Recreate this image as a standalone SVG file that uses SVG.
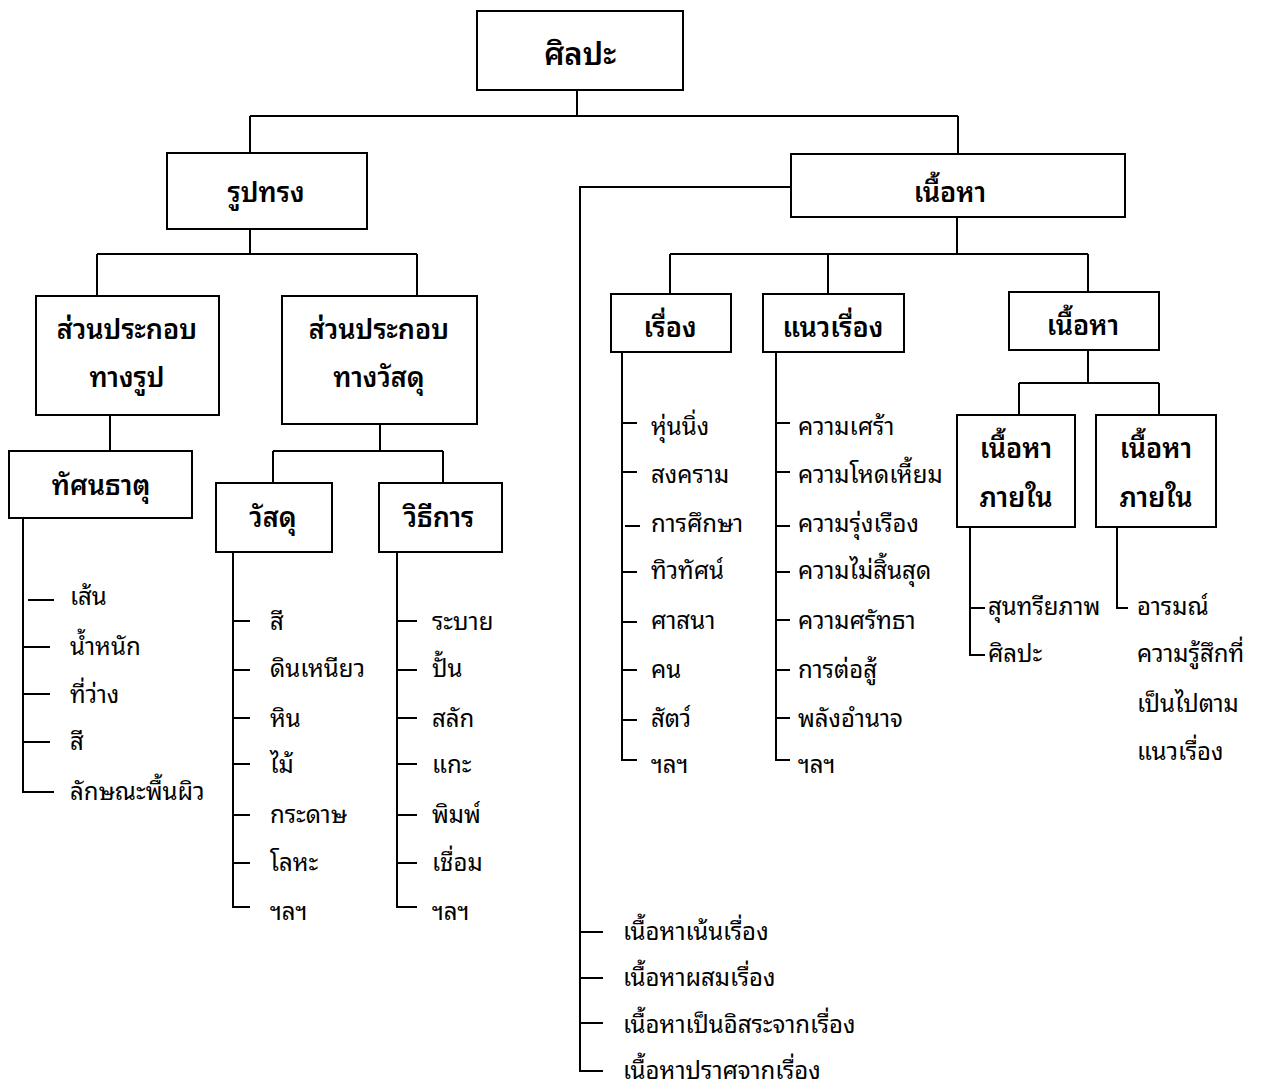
<svg xmlns="http://www.w3.org/2000/svg" width="1264" height="1088" viewBox="0 0 1264 1088">
<style>
.bx{fill:#fff;stroke:#000;stroke-width:2}
.ln{fill:none;stroke:#000;stroke-width:2}
text{font-family:"Noto Sans Thai Looped","Noto Sans Thai","Noto Sans","DejaVu Sans",sans-serif;fill:#000}
.t{font-size:24px}
.b{font-size:27px;font-weight:600;text-anchor:middle}
.h{font-size:31px;font-weight:600;text-anchor:middle}
</style>
<rect width="1264" height="1088" fill="#fff"/>
<g id="connectors" class="ln">
<path d="M577,90V116M250,116H958M250,116V153M958,116V154"/>
<path d="M250,229V254M97,254H417M97,254V296M417,254V296"/>
<path d="M110,415V451"/>
<path d="M380,424V451M273,451H443M273,451V483M443,451V483"/>
<path d="M23,518V792H54M28,600H54M23,647H50M23,694H50M23,742H50"/>
<path d="M233,552V907H250M233,621H250M233,670H250M233,718H250M233,764H250M233,815H250M233,863H250"/>
<path d="M397,552V907H417M397,621H417M397,670H417M397,718H417M397,764H417M397,815H417M397,863H417"/>
<path d="M791,187H580V1071H603M580,932H603M580,978H603M580,1023H603"/>
<path d="M957,217V254M670,254H1088M670,254V294M828,254V294M1088,254V292"/>
<path d="M622,352V760H637M622,423H637M622,472H637M625,526H640M622,572H637M622,622H637M622,670H637M622,720H637"/>
<path d="M776,352V760H790M776,423H790M776,472H790M776,526H790M776,572H790M776,620H790M776,670H790M776,718H790"/>
<path d="M1088,350V383M1019,383H1159M1019,383V415M1159,383V415"/>
<path d="M970,527V655H985M970,608H985"/>
<path d="M1117,527V608H1128"/>
</g>
<g id="n-silpa"><rect class="bx" x="477" y="11" width="206" height="79"/><text class="h" x="580" y="65">ศิลปะ</text></g>
<g id="n-rupsong"><rect class="bx" x="167" y="153" width="200" height="76"/><text class="b" x="266" y="202">รูปทรง</text></g>
<g id="n-nuea"><rect class="bx" x="791" y="154" width="334" height="63"/><text class="b" x="950" y="202">เนื้อหา</text></g>
<g id="n-sp-rup"><rect class="bx" x="36" y="296" width="183" height="119"/><text class="b" x="127" y="339">ส่วนประกอบ</text><text class="b" x="127" y="387">ทางรูป</text></g>
<g id="n-sp-wasadu"><rect class="bx" x="282" y="296" width="195" height="128"/><text class="b" x="379" y="339">ส่วนประกอบ</text><text class="b" x="379" y="387">ทางวัสดุ</text></g>
<g id="n-tassana"><rect class="bx" x="9" y="451" width="183" height="67"/><text class="b" x="101" y="495">ทัศนธาตุ</text></g>
<g id="n-wasadu"><rect class="bx" x="216" y="483" width="116" height="69"/><text class="b" x="273" y="527">วัสดุ</text></g>
<g id="n-withi"><rect class="bx" x="379" y="483" width="123" height="69"/><text class="b" x="439" y="527">วิธีการ</text></g>
<g id="n-rueang"><rect class="bx" x="611" y="294" width="120" height="58"/><text class="b" x="670" y="337">เรื่อง</text></g>
<g id="n-naew"><rect class="bx" x="763" y="294" width="141" height="58"/><text class="b" x="833" y="337">แนวเรื่อง</text></g>
<g id="n-nuea2"><rect class="bx" x="1009" y="292" width="150" height="58"/><text class="b" x="1083" y="335">เนื้อหา</text></g>
<g id="n-phai1"><rect class="bx" x="957" y="415" width="118" height="112"/><text class="b" x="1016" y="458">เนื้อหา</text><text class="b" x="1016" y="507">ภายใน</text></g>
<g id="n-phai2"><rect class="bx" x="1096" y="415" width="120" height="112"/><text class="b" x="1156" y="458">เนื้อหา</text><text class="b" x="1156" y="507">ภายใน</text></g>
<g id="list-tassana" class="t">
<text x="70" y="605">เส้น</text><text x="70" y="655">น้ำหนัก</text><text x="70" y="703">ที่ว่าง</text><text x="70" y="750">สี</text><text x="70" y="800">ลักษณะพื้นผิว</text>
</g>
<g id="list-wasadu" class="t">
<text x="270" y="630">สี</text><text x="270" y="677">ดินเหนียว</text><text x="270" y="727">หิน</text><text x="270" y="773">ไม้</text><text x="270" y="823">กระดาษ</text><text x="270" y="871">โลหะ</text><text x="270" y="920">ฯลฯ</text>
</g>
<g id="list-withi" class="t">
<text x="432" y="630">ระบาย</text><text x="432" y="677">ปั้น</text><text x="432" y="727">สลัก</text><text x="432" y="773">แกะ</text><text x="432" y="823">พิมพ์</text><text x="432" y="871">เชื่อม</text><text x="432" y="920">ฯลฯ</text>
</g>
<g id="list-rueang" class="t">
<text x="651" y="435">หุ่นนิ่ง</text><text x="651" y="483">สงคราม</text><text x="651" y="532">การศึกษา</text><text x="651" y="579">ทิวทัศน์</text><text x="651" y="629">ศาสนา</text><text x="651" y="678">คน</text><text x="651" y="727">สัตว์</text><text x="651" y="773">ฯลฯ</text>
</g>
<g id="list-naew" class="t">
<text x="798" y="435">ความเศร้า</text><text x="798" y="483">ความโหดเหี้ยม</text><text x="798" y="532">ความรุ่งเรือง</text><text x="798" y="579">ความไม่สิ้นสุด</text><text x="798" y="629">ความศรัทธา</text><text x="798" y="678">การต่อสู้</text><text x="798" y="727">พลังอำนาจ</text><text x="798" y="773">ฯลฯ</text>
</g>
<g id="list-phai1" class="t">
<text x="988" y="615">สุนทรียภาพ</text><text x="988" y="662">ศิลปะ</text>
</g>
<g id="list-phai2" class="t">
<text x="1137" y="615">อารมณ์</text><text x="1137" y="662">ความรู้สึกที่</text><text x="1137" y="712">เป็นไปตาม</text><text x="1137" y="760">แนวเรื่อง</text>
</g>
<g id="list-nuea" class="t">
<text x="623" y="940">เนื้อหาเน้นเรื่อง</text><text x="623" y="986">เนื้อหาผสมเรื่อง</text><text x="623" y="1033">เนื้อหาเป็นอิสระจากเรื่อง</text><text x="623" y="1079">เนื้อหาปราศจากเรื่อง</text>
</g>
</svg>
